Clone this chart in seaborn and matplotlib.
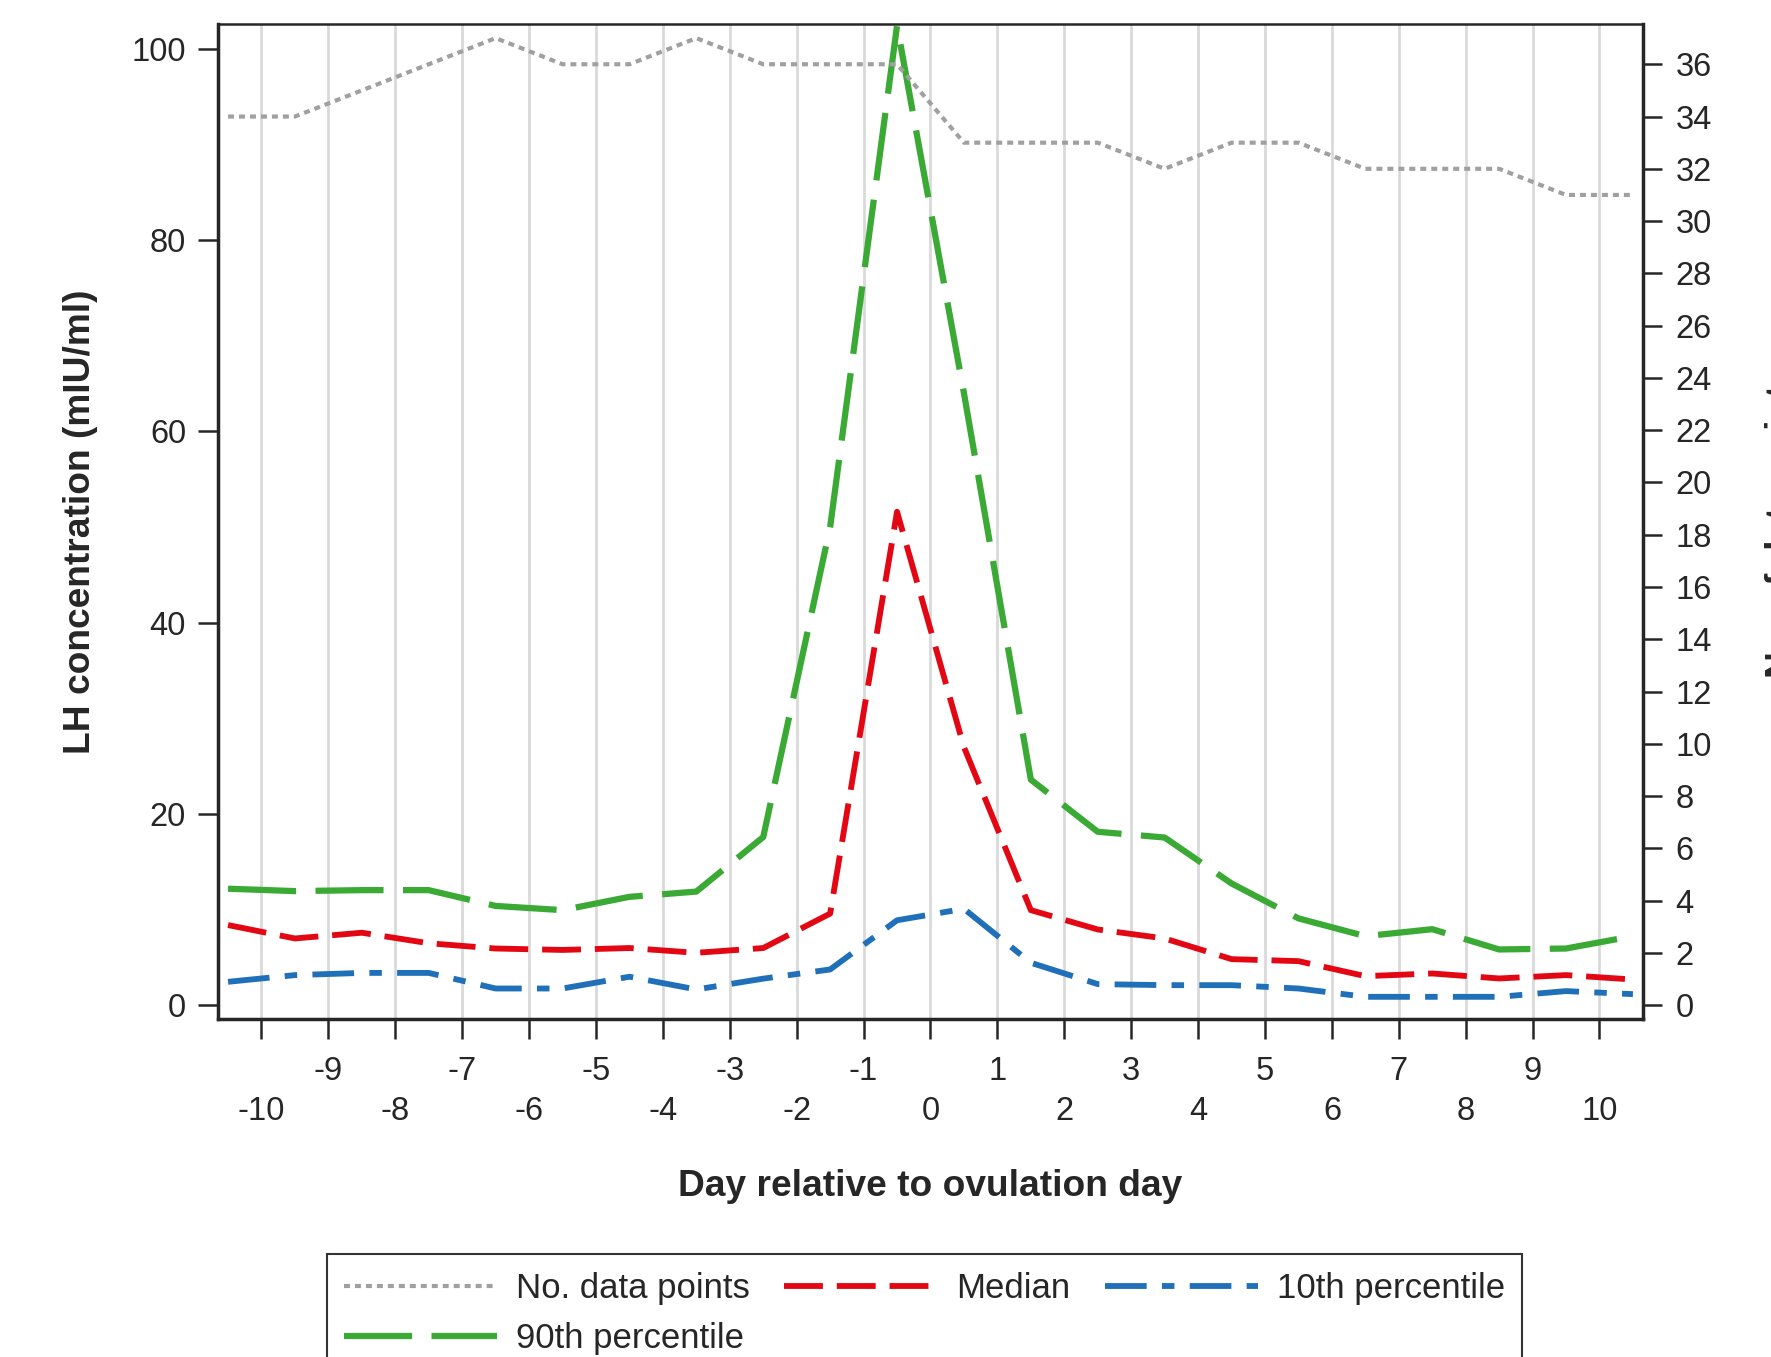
import pandas as pd
import matplotlib
matplotlib.use("Agg")
import matplotlib.pyplot as plt
import seaborn as sns

# day bins (half-day positions) and the four series
days = [-10.5, -9.5, -8.5, -7.5, -6.5, -5.5, -4.5, -3.5, -2.5, -1.5, -0.5,
        0.5, 1.5, 2.5, 3.5, 4.5, 5.5, 6.5, 7.5, 8.5, 9.5, 10.5]
n_points = [34, 34, 35, 36, 37, 36, 36, 37, 36, 36, 36,
            33, 33, 33, 32, 33, 33, 32, 32, 32, 31, 31]
median = [8.4, 7.0, 7.6, 6.5, 5.95, 5.8, 6.0, 5.5, 6.0, 9.6, 51.6,
          27.0, 9.96, 7.94, 7.0, 4.84, 4.63, 3.06, 3.34, 2.82, 3.17, 2.71]
p90 = [12.2, 11.95, 12.05, 12.05, 10.4, 9.96, 11.35, 11.9, 17.6, 50.0, 102.4,
       64.0, 23.6, 18.15, 17.55, 12.75, 9.1, 7.24, 7.97, 5.85, 5.95, 7.24]
p10 = [2.47, 3.17, 3.4, 3.4, 1.77, 1.77, 3.0, 1.67, 2.8, 3.76, 8.9,
       10.1, 4.46, 2.23, 2.12, 2.12, 1.77, 0.9, 0.9, 0.9, 1.5, 1.18]

even_days = [-10, -8, -6, -4, -2, 0, 2, 4, 6, 8, 10]
odd_days = [-9, -7, -5, -3, -1, 1, 3, 5, 7, 9]
left_ticks = [0, 20, 40, 60, 80, 100]
right_ticks = [0, 2, 4, 6, 8, 10, 12, 14, 16, 18, 20, 22, 24, 26, 28, 30, 32, 34, 36]

df = pd.DataFrame({"day": days, "n": n_points, "median": median,
                   "p90": p90, "p10": p10})

sns.set_style("ticks")
plt.rcParams["font.family"] = ["Liberation Sans", "DejaVu Sans"]
plt.rcParams["lines.scale_dashes"] = False  # dash lengths in points

GRAY = "#a0a0a0"
RED = "#e30613"
GREEN = "#3aaa35"
BLUE = "#1f70b8"

fig = plt.figure(figsize=(17.71, 13.57), dpi=100)
ax = fig.add_axes([0.1231, 0.2492, 0.8046, 0.7333])
ax2 = ax.twinx()

sns.lineplot(data=df, x="day", y="p90", ax=ax, color=GREEN,
             linestyle=(0, (49, 14)), label="90th percentile", legend=False)
sns.lineplot(data=df, x="day", y="median", ax=ax, color=RED,
             linestyle=(0, (28, 10)), label="Median", legend=False)
sns.lineplot(data=df, x="day", y="p10", ax=ax, color=BLUE,
             linestyle=(0, (30, 11, 9, 11)), label="10th percentile", legend=False)
sns.lineplot(data=df, x="day", y="n", ax=ax2, color=GRAY,
             linestyle=(0, (4.3, 3.6)), label="No. data points", legend=False)

h_green, h_red, h_blue = ax.get_lines()[:3]
h_gray = ax2.get_lines()[0]
h_green.set_linewidth(4.5)
h_red.set_linewidth(4.2)
h_blue.set_linewidth(4.2)
h_gray.set_linewidth(3.0)

ax.set_xlim(-10.65, 10.65)
ax.set_ylim(-1.4, 102.6)
ax2.set_ylim(-0.52, 37.55)

ax.set_xticks(even_days)
ax.set_xticklabels([str(d) for d in even_days])
ax.set_xticks(odd_days, minor=True)
ax.set_xticklabels([str(d) for d in odd_days], minor=True)
ax.set_yticks(left_ticks)
ax2.set_yticks(right_ticks)

ax.grid(True, axis="x", which="both", color="#d9d9d9", lw=2.0)
ax.set_axisbelow(True)

ax.tick_params(axis="x", which="major", length=14.5, width=1.8, pad=41, labelsize=23.5)
ax.tick_params(axis="x", which="minor", length=14.5, width=1.8, pad=12, labelsize=23.5)
ax.tick_params(axis="y", length=14.5, width=1.8, pad=8.5, labelsize=23.5)
ax2.tick_params(axis="y", length=14, width=1.8, pad=9.5, labelsize=23.5)

for side in ["left", "bottom", "right"]:
    ax.spines[side].set_linewidth(2.5)
ax.spines["top"].set_linewidth(1.8)
ax.spines["right"].set_visible(False)
for side in ["left", "bottom", "top"]:
    ax2.spines[side].set_visible(False)
ax2.spines["right"].set_linewidth(2.5)

ax.set_xlabel("Day relative to ovulation day", fontsize=26.7, fontweight="bold", labelpad=30)
ax.set_ylabel("LH concentration (mIU/ml)", fontsize=26.7, fontweight="bold", labelpad=24)
ax2.set_ylabel("No. of data points", fontsize=26.7, fontweight="bold", labelpad=38)

leg = fig.legend(handles=[h_gray, h_green, h_red, h_blue],
                 labels=["No. data points", "90th percentile", "Median", "10th percentile"],
                 ncol=3, loc="upper center", bbox_to_anchor=(0.522, 0.0884),
                 frameon=True, fancybox=False, edgecolor="black", fontsize=25,
                 handlelength=4.4, handletextpad=0.55, columnspacing=1.0,
                 borderpad=0.5, labelspacing=0.5)
leg.get_frame().set_linewidth(1.5)

fig.savefig("out.png", dpi=100)
